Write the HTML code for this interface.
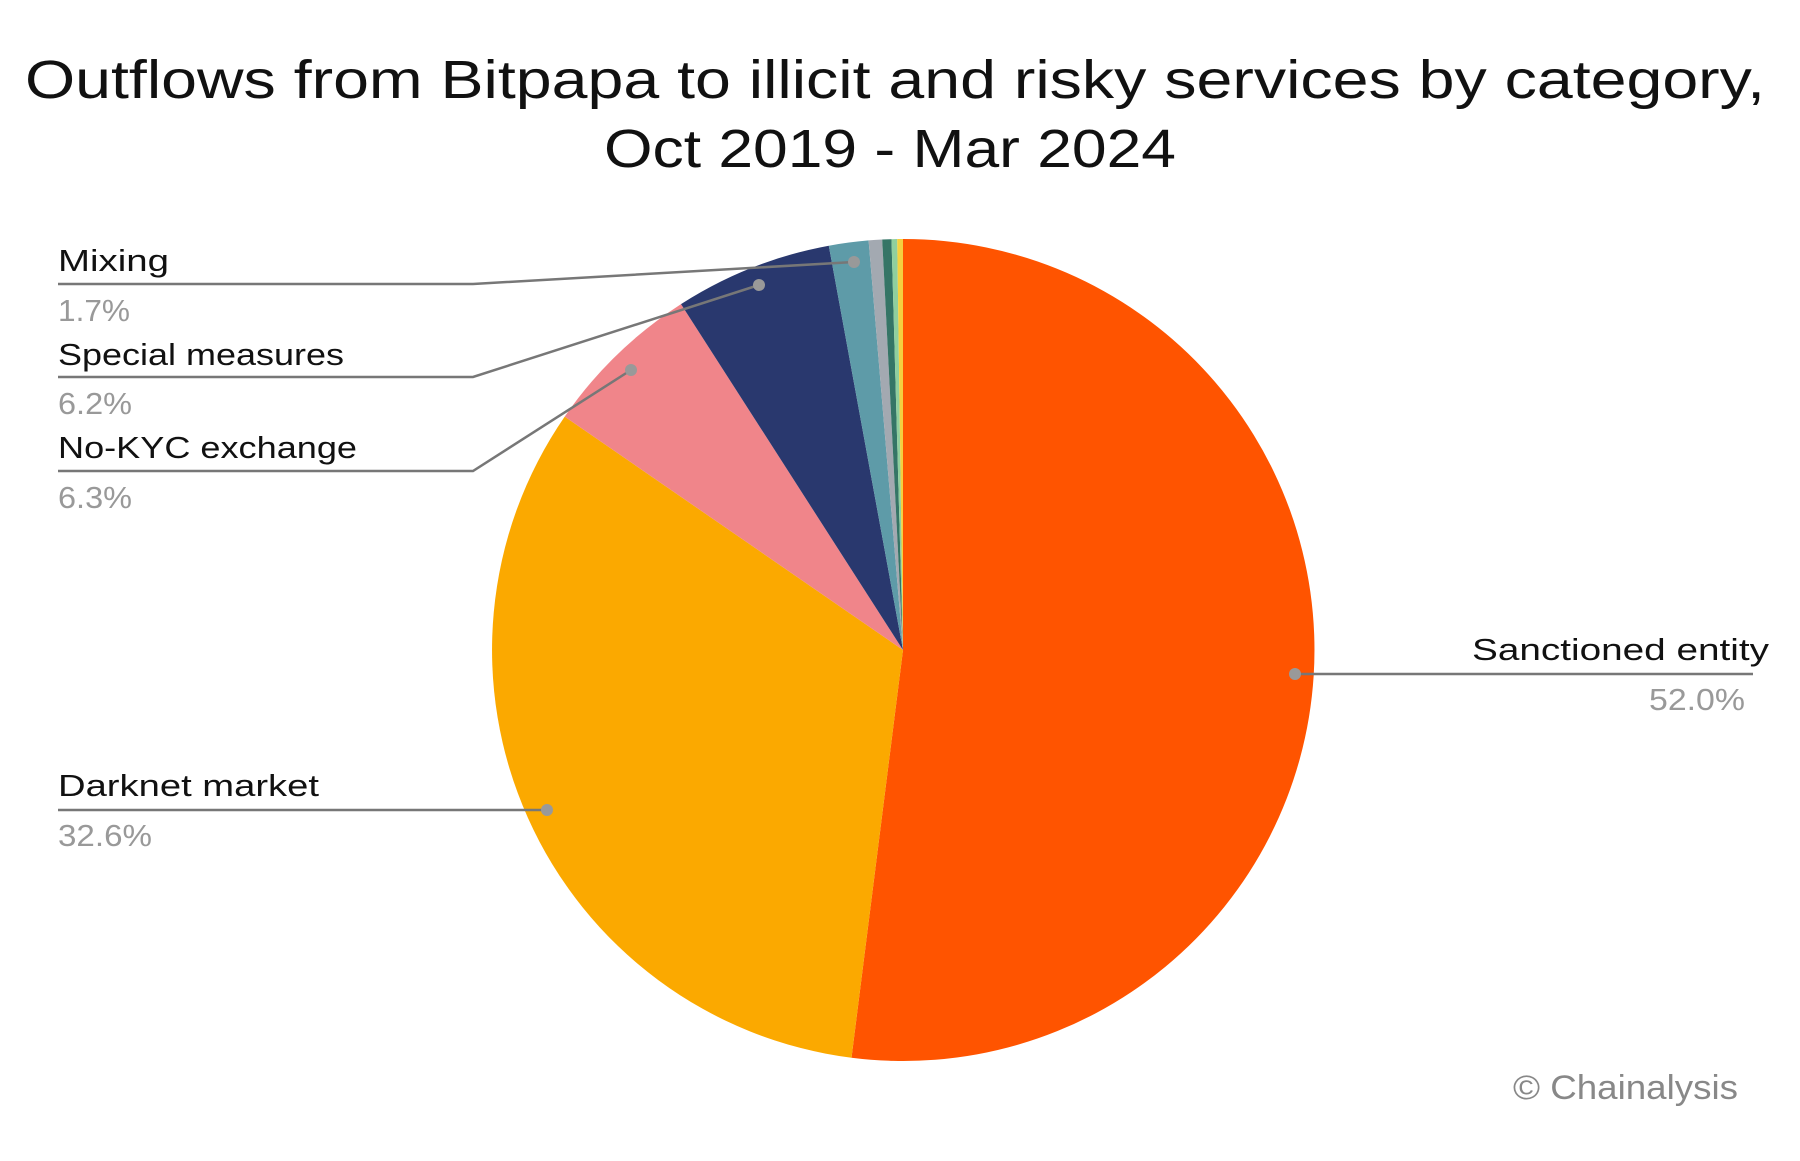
<!DOCTYPE html>
<html><head><meta charset="utf-8"><style>html,body{margin:0;padding:0;background:#fff}svg{display:block}</style></head>
<body>
<svg width="1800" height="1161" viewBox="0 0 1800 1161" xmlns="http://www.w3.org/2000/svg" font-family="Liberation Sans, DejaVu Sans, sans-serif">
<rect width="1800" height="1161" fill="#fff"/>
<text x="895" y="98" font-size="54" text-anchor="middle" fill="#111" textLength="1740" lengthAdjust="spacingAndGlyphs">Outflows from Bitpapa to illicit and risky services by category,</text>
<text x="890" y="167" font-size="54" text-anchor="middle" fill="#111" textLength="572" lengthAdjust="spacingAndGlyphs">Oct 2019 - Mar 2024</text>
<g stroke="none">
<path d="M903,650 L903,239 A411,411 0 1 1 851.5,1057.7 Z" fill="#FF5400"/>
<path d="M903,650 L851.5,1057.7 A411,411 0 0 1 564.7,416.6 Z" fill="#FBA900"/>
<path d="M903,650 L564.7,416.6 A411,411 0 0 1 681,304.1 Z" fill="#F0858A"/>
<path d="M903,650 L681,304.1 A411,411 0 0 1 828.8,245.7 Z" fill="#29386E"/>
<path d="M903,650 L828.8,245.7 A411,411 0 0 1 868.6,240.4 Z" fill="#5E9BA8"/>
<path d="M903,650 L868.6,240.4 A411,411 0 0 1 882.2,239.5 Z" fill="#A3A9B1"/>
<path d="M903,650 L882.2,239.5 A411,411 0 0 1 891.5,239.2 Z" fill="#357566"/>
<path d="M903,650 L891.5,239.2 A411,411 0 0 1 897.2,239 Z" fill="#8FCF9E"/>
<path d="M903,650 L897.2,239 A411,411 0 0 1 903,239 Z" fill="#F4D03F"/>
</g>
<g stroke="#777" stroke-width="2.5" fill="none">
<polyline points="58,284 473,284 854,262"/>
<polyline points="58,377 473,377 759,285"/>
<polyline points="58,471 473,471 631,370"/>
<polyline points="58,810 547,810"/>
<polyline points="1295,674 1753,674"/>
</g>
<g fill="#999">
<circle cx="854" cy="262" r="6"/><circle cx="759" cy="285" r="6"/><circle cx="631" cy="370" r="6"/><circle cx="547" cy="810" r="6"/><circle cx="1295" cy="674" r="6"/>
</g>
<g font-size="31" fill="#111">
<text x="58" y="271" textLength="111" lengthAdjust="spacingAndGlyphs">Mixing</text>
<text x="58" y="365" textLength="286" lengthAdjust="spacingAndGlyphs">Special measures</text>
<text x="58" y="458" textLength="299" lengthAdjust="spacingAndGlyphs">No-KYC exchange</text>
<text x="58" y="796" textLength="261" lengthAdjust="spacingAndGlyphs">Darknet market</text>
<text x="1769" y="660" text-anchor="end" textLength="297" lengthAdjust="spacingAndGlyphs">Sanctioned entity</text>
</g>
<g font-size="31" fill="#999">
<text x="58" y="321" textLength="72" lengthAdjust="spacingAndGlyphs">1.7%</text>
<text x="58" y="414" textLength="74" lengthAdjust="spacingAndGlyphs">6.2%</text>
<text x="58" y="508" textLength="74" lengthAdjust="spacingAndGlyphs">6.3%</text>
<text x="58" y="846" textLength="94" lengthAdjust="spacingAndGlyphs">32.6%</text>
<text x="1745" y="710" text-anchor="end" textLength="96" lengthAdjust="spacingAndGlyphs">52.0%</text>
<text x="1738" y="1099" text-anchor="end" font-size="34" fill="#888" textLength="225" lengthAdjust="spacingAndGlyphs">© Chainalysis</text>
</g>
</svg>
</body></html>
